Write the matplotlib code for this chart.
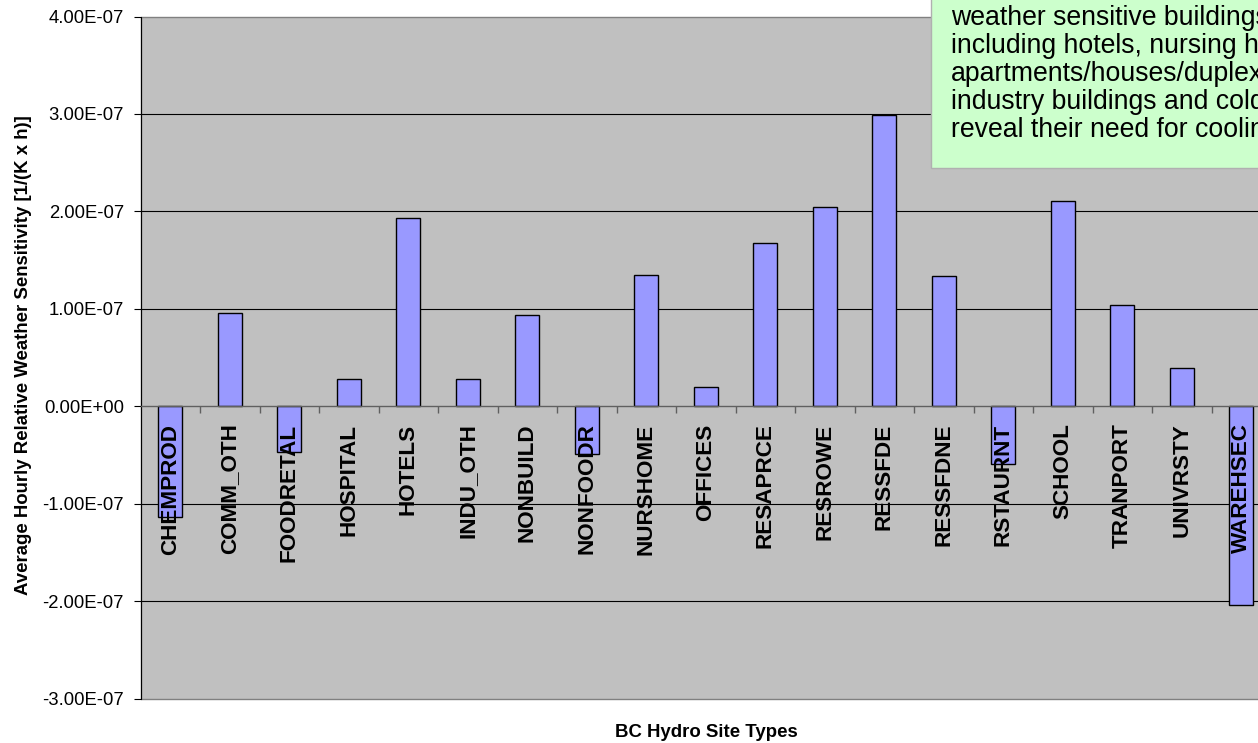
import matplotlib
matplotlib.use("Agg")
import matplotlib.pyplot as plt
from matplotlib.patches import Rectangle
import numpy as np

# Average hourly relative weather sensitivity per BC Hydro site type
sites = ["CHEMPROD", "COMM_OTH", "FOODRETAL", "HOSPITAL", "HOTELS", "INDU_OTH",
         "NONBUILD", "NONFOODR", "NURSHOME", "OFFICES", "RESAPRCE", "RESROWE",
         "RESSFDE", "RESSFDNE", "RSTAURNT", "SCHOOL", "TRANPORT", "UNIVRSTY",
         "WAREHSEC"]
sensitivity = [-1.14e-07, 0.96e-07, -0.47e-07, 0.28e-07, 1.93e-07, 0.28e-07,
               0.94e-07, -0.49e-07, 1.35e-07, 0.20e-07, 1.68e-07, 2.04e-07,
               2.99e-07, 1.34e-07, -0.59e-07, 2.11e-07, 1.04e-07, 0.39e-07,
               -2.04e-07]
y_ticks = [-3e-07, -2e-07, -1e-07, 0.0, 1e-07, 2e-07, 3e-07, 4e-07]

note_lines = ["weather sensitive buildings",
              "including hotels, nursing homes,",
              "apartments/houses/duplexes,",
              "industry buildings and cold storage",
              "reveal their need for cooling."]

W, H = 1258, 743


def main():
    plt.rcParams["font.family"] = ["Liberation Sans", "DejaVu Sans"]
    fig = plt.figure(figsize=(W / 100, H / 100), dpi=100)
    fig.patch.set_facecolor("white")

    # plot area in pixels: left 141, top 16.5, bottom 698.5, 59.5 px per category
    left, top, bottom, step = 140.5, 16.5, 698.5, 59.5
    ax = fig.add_axes([left / W, (H - bottom) / H,
                       step * len(sites) / W, (bottom - top) / H])
    ax.set_facecolor("#C0C0C0")
    ax.patch.set_edgecolor("#808080")
    ax.patch.set_linewidth(1.0)

    x = np.arange(len(sites))
    ax.bar(x, sensitivity, width=0.4, color="#9999FF", edgecolor="black",
           linewidth=1.0, zorder=1)

    ax.set_xlim(-0.5, len(sites) - 0.5)
    ax.set_ylim(y_ticks[0], y_ticks[-1])

    # gridlines under the bars, tick labels above them
    for v in y_ticks[1:-1]:
        if v != 0:
            ax.axhline(v, color="black", linewidth=0.8, zorder=0.5)

    for side in ["top", "right"]:
        ax.spines[side].set_visible(False)
    ax.spines["left"].set_color("black")
    ax.spines["left"].set_linewidth(0.8)
    ax.spines["bottom"].set_position(("data", 0))
    ax.spines["bottom"].set_color("#606060")
    ax.spines["bottom"].set_linewidth(1.0)

    ax.set_yticks(y_ticks)
    ax.set_yticklabels(["%.2E" % v for v in y_ticks])
    ax.tick_params(axis="y", direction="out", length=5, width=0.8,
                   color="black", pad=7, labelsize=13.3)

    ax.set_xticks(x)
    ax.set_xticklabels(sites, rotation=90, fontweight="bold", fontsize=16.2)
    ax.set_xticks(x[:-1] + 0.5, minor=True)
    ax.tick_params(axis="x", which="major", length=0, pad=12.5)
    ax.tick_params(axis="x", which="minor", direction="out", length=5,
                   width=1.0, color="#606060")

    fig.text(23.5 / W, 1 - 355 / H,
             "Average Hourly Relative Weather Sensitivity [1/(K x h)]",
             rotation=90, ha="center", va="center", fontweight="bold",
             fontsize=13.4)
    fig.text(706 / W, 1 - 737 / H, "BC Hydro Site Types", ha="center",
             va="baseline", fontweight="bold", fontsize=13.4)

    # comment box in the upper right corner
    box = Rectangle((931 / W, 1 - 168 / H), (W - 931 + 50) / W, 168 / H + 0.1,
                    transform=fig.transFigure, facecolor="#CCFFCC",
                    edgecolor="#B0B0B0", linewidth=1.0, zorder=5)
    fig.add_artist(box)
    for i, line in enumerate(note_lines):
        fig.text(951 / W, 1 - (25 + 28.1 * i) / H, line, ha="left",
                 va="baseline", fontsize=19.2, color="black", zorder=6)

    plt.savefig("out.png", dpi=100)
    return 0


if __name__ == "__main__":
    main()
